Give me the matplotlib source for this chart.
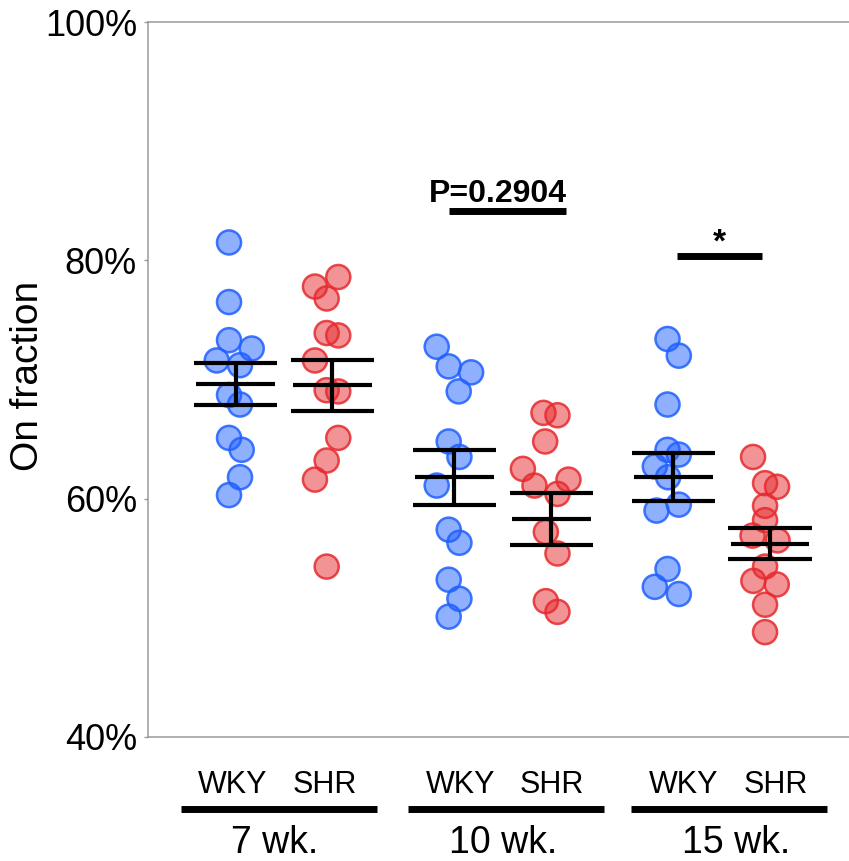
import matplotlib
matplotlib.use('Agg')
import matplotlib.pyplot as plt

plt.rcParams['font.family'] = ['Liberation Sans', 'DejaVu Sans']

ageGroups = ['7 wk.', '10 wk.', '15 wk.']
strains = ['WKY', 'SHR']

# on fraction (%) per animal
wky7 = [81.5, 76.5, 73.3, 72.6, 71.6, 71.2, 68.7, 67.9, 65.1, 64.1, 61.8, 60.3]
shr7 = [78.6, 77.8, 76.8, 73.9, 73.7, 71.6, 69.1, 69.0, 65.1, 63.2, 61.6, 54.3]
wky10 = [72.75, 71.1, 70.6, 69.0, 64.8, 63.5, 61.1, 57.4, 56.3, 53.2, 51.6, 50.1]
shr10 = [67.2, 67.0, 64.8, 62.5, 61.1, 61.6, 60.4, 57.2, 55.4, 51.4, 50.5]
wky15 = [73.4, 72.0, 67.9, 64.1, 63.7, 62.7, 61.8, 59.5, 59.0, 54.1, 52.6, 52.0]
shr15 = [63.5, 61.3, 61.0, 59.4, 58.2, 56.9, 56.5, 54.3, 53.1, 52.8, 51.1, 48.8]

# horizontal scatter of each dot (pixels in the original)
wky7Jit = [-6.5, -6.5, -6.5, 16.2, -18.8, 4.5, -6.5, 4.5, -6.5, 6.2, 4.5, -6.5]
shr7Jit = [6, -17.3, -5.6, -5.6, 6, -17.3, -5.6, 6, 6, -5.6, -17.3, -5.6]
wky10Jit = [-17.7, -5.7, 16.7, 4.3, -5.7, 5, -17.7, -5.7, 5, -5.7, 5, -5.7]
shr10Jit = [-7.7, 6.3, -6, -28.3, -16.7, 17.3, 6.3, -5.3, 6.3, -5.3, 6.3]
wky15Jit = [-5.8, 5.5, -5.8, -5.8, 5.5, -18.5, -5.2, 5.5, -16.8, -5.8, -18.5, 5.5]
shr15Jit = [-17, -5, 7, -5, -5, -17.5, 7.5, -5, -16.7, 6.7, -5, -5]

# mean +/- SEM as drawn (WKY7, SHR7, WKY10, SHR10, WKY15, SHR15)
means = [69.6, 69.5, 61.8, 58.3, 61.8, 56.2]
sems = [1.75, 2.15, 2.3, 2.2, 2.0, 1.3]

sigLabels = ['P=0.2904', '*']
sigHeights = [84.1, 80.4]

values = [wky7, shr7, wky10, shr10, wky15, shr15]
jitters = [wky7Jit, shr7Jit, wky10Jit, shr10Jit, wky15Jit, shr15Jit]
colors = {'WKY': '#2060ff', 'SHR': '#e62a2e'}

pxPerUnit = 218.9
offset = 0.221
groupPos = [1, 2, 3]
strainPos = []
for g in groupPos:
    strainPos += [g - offset, g + offset]

fig = plt.figure(figsize=(8.49, 8.61), dpi=100)
ax = fig.add_axes([148 / 849, 124 / 861, 1 - 148 / 849, 715 / 861])

for i, (vals, jit) in enumerate(zip(values, jitters)):
    strain = strains[i % 2]
    xs = [strainPos[i] + j / pxPerUnit for j in jit]
    ax.scatter(xs, vals, s=300, facecolor=colors[strain], alpha=0.5, edgecolor='none', zorder=2)
    ax.scatter(xs, vals, s=300, facecolor='none', edgecolor=colors[strain], linewidths=1.8, alpha=0.85, zorder=2)

for x, m, e in zip(strainPos, means, sems):
    ax.hlines([m - e, m + e], x - 0.19, x + 0.19, color='black', lw=3, zorder=3)
    ax.hlines(m, x - 0.18, x + 0.18, color='black', lw=3, zorder=3)
    ax.vlines(x, m - e, m + e, color='black', lw=3, zorder=3)

# significance bars: 10 wk. and 15 wk.
ax.plot([strainPos[2] - 0.023, strainPos[3] + 0.067], [sigHeights[0]] * 2, color='black', lw=5, solid_capstyle='butt')
ax.text(1.976, sigHeights[0] + 0.8, sigLabels[0], ha='center', va='baseline', fontsize=23, fontweight='bold')
ax.plot([strainPos[4] + 0.016, strainPos[5] - 0.038], [sigHeights[1]] * 2, color='black', lw=5, solid_capstyle='butt')
ax.text(2.988, sigHeights[1] + 0.3, sigLabels[1], ha='center', va='baseline', fontsize=24, fontweight='bold')

ax.set_xlim(0.3792, 3.5816)
ax.set_ylim(40, 100)
ax.set_yticks([40, 60, 80, 100])
ax.set_yticklabels(['40%', '60%', '80%', '100%'], fontsize=26)
ax.tick_params(axis='y', length=3, width=1, color='#9a9a9a', pad=5)
ax.set_xticks([])
for side in ['left', 'top', 'bottom']:
    ax.spines[side].set_color('#9a9a9a')
    ax.spines[side].set_linewidth(1.1)
ax.spines['right'].set_visible(False)

fig.text(28 / 849, 1 - 376 / 861, 'On fraction', rotation=90, ha='center', va='center', fontsize=28)

# label row under the axes sits a little wider than the dots
trans = ax.get_xaxis_transform()
labelCenters = [0.978, 2.016, 3.035]
ageTextPos = [0.959, 2.002, 3.065]
for c, t, label in zip(labelCenters, ageTextPos, ageGroups):
    ax.text(c - 0.21, -0.0787, strains[0], transform=trans, ha='center', va='baseline', fontsize=22, clip_on=False)
    ax.text(c + 0.21, -0.0787, strains[1], transform=trans, ha='center', va='baseline', fontsize=22, clip_on=False)
    ax.plot([c - 0.448, c + 0.448], [-0.1, -0.1], transform=trans, color='black', lw=5, clip_on=False, solid_capstyle='butt')
    ax.text(t, -0.1627, label, transform=trans, ha='center', va='baseline', fontsize=27, clip_on=False)

fig.savefig('out.png', dpi=100)
